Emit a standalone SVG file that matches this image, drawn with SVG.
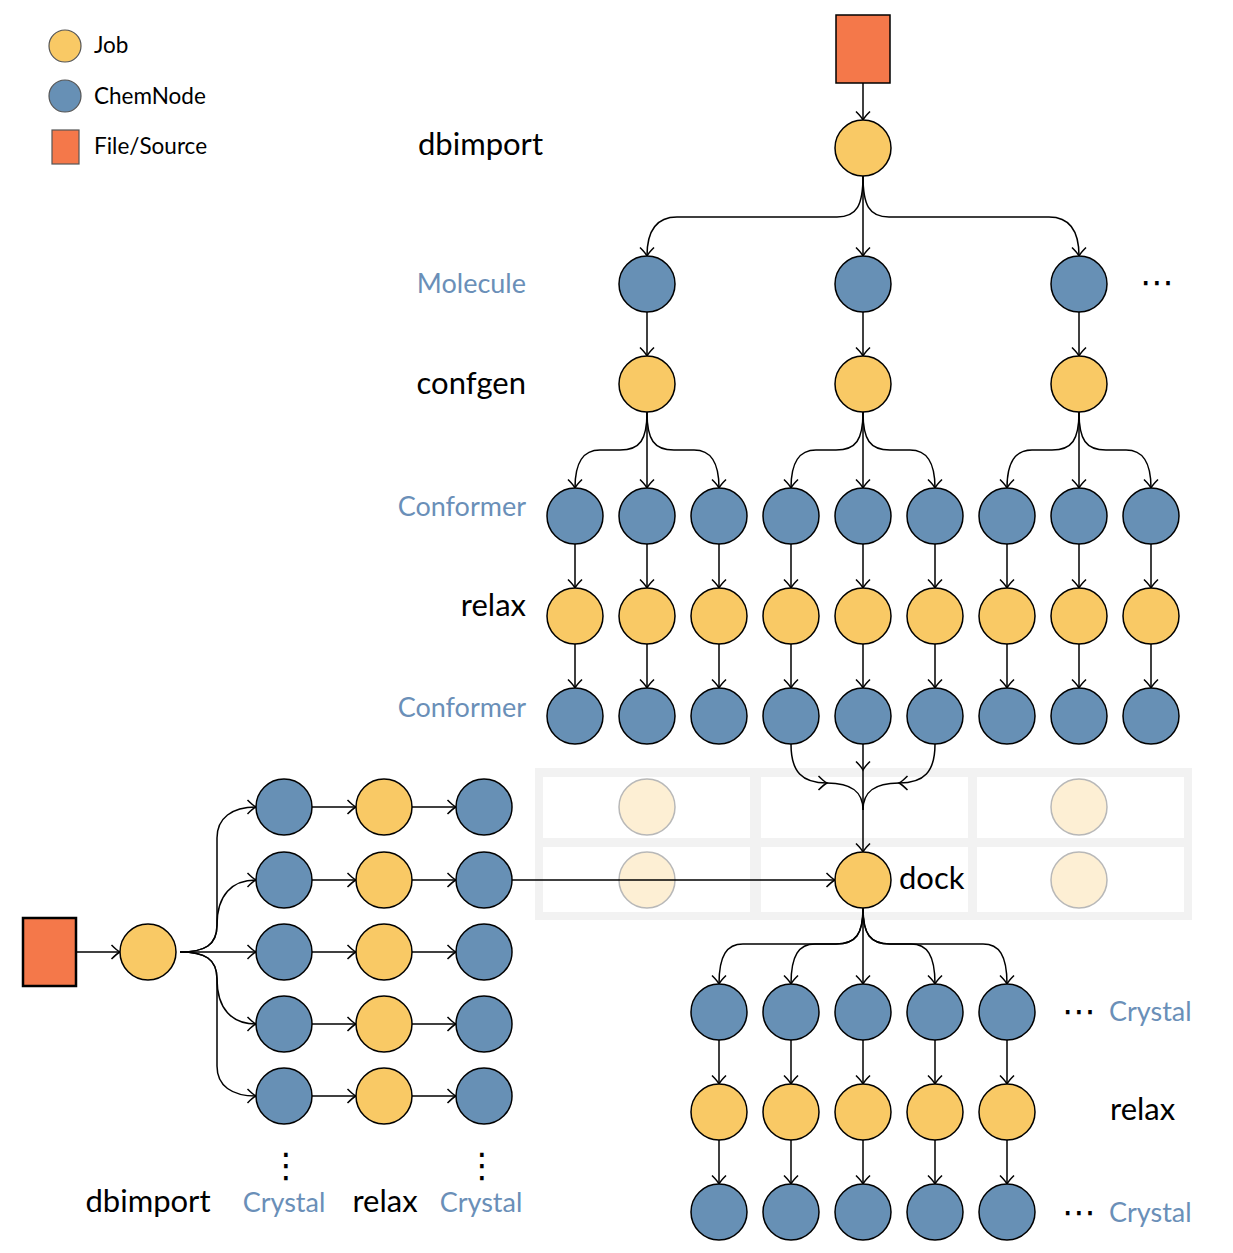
<svg xmlns="http://www.w3.org/2000/svg" width="1233" height="1253" viewBox="0 0 1233 1253">
<style>
.job{fill:#f9c965;stroke:#000;stroke-width:1.5}
.chem{fill:#6790b5;stroke:#000;stroke-width:1.5}
.src{fill:#f4784a;stroke:#000;stroke-width:1.5}
.ghost{fill:#fdefd4;stroke:#b8b8b8;stroke-width:1.5}
.lj{fill:#f9c965;stroke:#555;stroke-width:1.2}
.lc{fill:#6790b5;stroke:#555;stroke-width:1.2}
.ls{fill:#f4784a;stroke:#555;stroke-width:1.2}
.e{fill:none;stroke:#000;stroke-width:1.5}
.ea{fill:none;stroke:#000;stroke-width:1.5;marker-end:url(#arr)}
text{font-family:"Lato","DejaVu Sans",sans-serif}
.lg{font-size:22.5px;fill:#000}
.lb{font-size:31px;fill:#000}
.bl{font-size:27px;fill:#6a8fb8}
.dots{font-family:"DejaVu Sans",sans-serif;font-size:34px;fill:#000}
</style>
<defs>
<marker id="arr" viewBox="-10 -8 12 16" markerWidth="12" markerHeight="16" refX="0" refY="0" orient="auto" markerUnits="userSpaceOnUse">
<path d="M-8.5,-7 Q-3,-1.5 0,0 Q-3,1.5 -8.5,7" fill="none" stroke="#000" stroke-width="1.5"/>
</marker>
</defs>
<rect width="1233" height="1253" fill="#fff"/>

<g id="grid">
<rect x="535" y="768" width="657" height="152" fill="#f2f2f2"/>
<rect x="543" y="777" width="207" height="61" fill="#fff"/>
<rect x="761" y="777" width="207" height="61" fill="#fff"/>
<rect x="977" y="777" width="207" height="61" fill="#fff"/>
<rect x="543" y="847" width="207" height="65" fill="#fff"/>
<rect x="761" y="847" width="207" height="65" fill="#fff"/>
<rect x="977" y="847" width="207" height="65" fill="#fff"/>
<circle class="ghost" cx="647" cy="807" r="28"/>
<circle class="ghost" cx="1079" cy="807" r="28"/>
<circle class="ghost" cx="647" cy="880" r="28"/>
<circle class="ghost" cx="1079" cy="880" r="28"/>
</g>

<g id="legend">
<g id="legend-job"><circle class="lj" cx="65" cy="46" r="16"/><text class="lg" x="94" y="53">Job</text></g>
<g id="legend-chem"><circle class="lc" cx="65" cy="96" r="16"/><text class="lg" x="94" y="104">ChemNode</text></g>
<g id="legend-file"><rect class="ls" x="52" y="130" width="27" height="34"/><text class="lg" x="94" y="154">File/Source</text></g>
</g>

<g id="labels">
<text class="lb" x="418" y="155">dbimport</text>
<text class="bl" x="526" y="293" text-anchor="end">Molecule</text>
<text class="lb" x="526" y="394" text-anchor="end">confgen</text>
<text class="bl" x="526" y="516" text-anchor="end">Conformer</text>
<text class="lb" x="526" y="616" text-anchor="end">relax</text>
<text class="bl" x="526" y="717" text-anchor="end">Conformer</text>
<text class="lb" x="899" y="889">dock</text>
<text class="dots" x="1140" y="294">⋯</text>
<text class="dots" x="1062" y="1023">⋯</text>
<text class="bl" x="1109" y="1021">Crystal</text>
<text class="lb" x="1110" y="1120">relax</text>
<text class="dots" x="1062" y="1224">⋯</text>
<text class="bl" x="1109" y="1222">Crystal</text>
<text class="dots" x="286" y="1177" text-anchor="middle">⋮</text>
<text class="dots" x="482" y="1177" text-anchor="middle">⋮</text>
<text class="lb" x="148" y="1212" text-anchor="middle">dbimport</text>
<text class="bl" x="284" y="1212" text-anchor="middle">Crystal</text>
<text class="lb" x="385" y="1212" text-anchor="middle">relax</text>
<text class="bl" x="481" y="1212" text-anchor="middle">Crystal</text>
</g>

<g id="connectors">
<path class="ea" d="M863,83 V120"/>
<path class="ea" d="M863,176 V256"/>
<path class="ea" d="M863,176 C863,205 857,217 837,217 H677 C657,217 647,230 647,256"/>
<path class="ea" d="M863,176 C863,205 869,217 889,217 H1049 C1069,217 1079,230 1079,256"/>
<path class="ea" d="M647,312 V356"/>
<path class="ea" d="M863,312 V356"/>
<path class="ea" d="M1079,312 V356"/>
<path class="ea" d="M647,412 V488"/>
<path class="ea" d="M647,412 C647,440 640,450 620,450 H600 C583,450 575,462 575,488"/>
<path class="ea" d="M647,412 C647,440 654,450 674,450 H694 C711,450 719,462 719,488"/>
<path class="ea" d="M863,412 V488"/>
<path class="ea" d="M863,412 C863,440 856,450 836,450 H816 C799,450 791,462 791,488"/>
<path class="ea" d="M863,412 C863,440 870,450 890,450 H910 C927,450 935,462 935,488"/>
<path class="ea" d="M1079,412 V488"/>
<path class="ea" d="M1079,412 C1079,440 1072,450 1052,450 H1032 C1015,450 1007,462 1007,488"/>
<path class="ea" d="M1079,412 C1079,440 1086,450 1106,450 H1126 C1143,450 1151,462 1151,488"/>
<path class="ea" d="M575,544 V588"/><path class="ea" d="M575,644 V688"/>
<path class="ea" d="M647,544 V588"/><path class="ea" d="M647,644 V688"/>
<path class="ea" d="M719,544 V588"/><path class="ea" d="M719,644 V688"/>
<path class="ea" d="M791,544 V588"/><path class="ea" d="M791,644 V688"/>
<path class="ea" d="M863,544 V588"/><path class="ea" d="M863,644 V688"/>
<path class="ea" d="M935,544 V588"/><path class="ea" d="M935,644 V688"/>
<path class="ea" d="M1007,544 V588"/><path class="ea" d="M1007,644 V688"/>
<path class="ea" d="M1079,544 V588"/><path class="ea" d="M1079,644 V688"/>
<path class="ea" d="M1151,544 V588"/><path class="ea" d="M1151,644 V688"/>
<path class="ea" d="M791,744 C791,772 802,783 827,783"/>
<path class="e" d="M827,783 C852,783 863,792 863,810"/>
<path class="ea" d="M935,744 C935,772 924,783 899,783"/>
<path class="e" d="M899,783 C874,783 863,792 863,810"/>
<path class="ea" d="M863,744 V770"/>
<path class="ea" d="M863,770 V852"/>
<path class="ea" d="M76,952 H120"/>
<path class="ea" d="M180,952 C205,952 217,945 217,925 V838 C217,818 232,807 256,807"/>
<path class="ea" d="M180,952 C205,952 217,945 217,925 C217,895 232,880 256,880"/>
<path class="ea" d="M180,952 H256"/>
<path class="ea" d="M180,952 C205,952 217,959 217,979 C217,1009 232,1024 256,1024"/>
<path class="ea" d="M180,952 C205,952 217,959 217,979 V1066 C217,1086 232,1096 256,1096"/>
<path class="ea" d="M312,807 H356"/><path class="ea" d="M412,807 H456"/>
<path class="ea" d="M312,880 H356"/><path class="ea" d="M412,880 H456"/>
<path class="ea" d="M312,952 H356"/><path class="ea" d="M412,952 H456"/>
<path class="ea" d="M312,1024 H356"/><path class="ea" d="M412,1024 H456"/>
<path class="ea" d="M312,1096 H356"/><path class="ea" d="M412,1096 H456"/>
<path class="ea" d="M512,880 H835"/>
<path class="ea" d="M863,908 V984"/>
<path class="ea" d="M863,908 C863,934 856,944 836,944 H815 C799,944 791,955 791,984"/>
<path class="ea" d="M863,908 C863,934 856,944 836,944 H743 C727,944 719,955 719,984"/>
<path class="ea" d="M863,908 C863,934 870,944 890,944 H911 C927,944 935,955 935,984"/>
<path class="ea" d="M863,908 C863,934 870,944 890,944 H983 C999,944 1007,955 1007,984"/>
<path class="ea" d="M719,1040 V1084"/><path class="ea" d="M719,1140 V1184"/>
<path class="ea" d="M791,1040 V1084"/><path class="ea" d="M791,1140 V1184"/>
<path class="ea" d="M863,1040 V1084"/><path class="ea" d="M863,1140 V1184"/>
<path class="ea" d="M935,1040 V1084"/><path class="ea" d="M935,1140 V1184"/>
<path class="ea" d="M1007,1040 V1084"/><path class="ea" d="M1007,1140 V1184"/>
</g>

<g id="nodes">
<g id="src-top"><rect class="src" x="836" y="15" width="54" height="68"/></g>
<g id="dbimport-top"><circle class="job" cx="863" cy="148" r="28"/></g>
<g id="mol-1"><circle class="chem" cx="647" cy="284" r="28"/></g>
<g id="mol-2"><circle class="chem" cx="863" cy="284" r="28"/></g>
<g id="mol-3"><circle class="chem" cx="1079" cy="284" r="28"/></g>
<g id="confgen-1"><circle class="job" cx="647" cy="384" r="28"/></g>
<g id="confgen-2"><circle class="job" cx="863" cy="384" r="28"/></g>
<g id="confgen-3"><circle class="job" cx="1079" cy="384" r="28"/></g>
<g id="conf-a1"><circle class="chem" cx="575" cy="516" r="28"/></g>
<g id="conf-a2"><circle class="chem" cx="647" cy="516" r="28"/></g>
<g id="conf-a3"><circle class="chem" cx="719" cy="516" r="28"/></g>
<g id="conf-a4"><circle class="chem" cx="791" cy="516" r="28"/></g>
<g id="conf-a5"><circle class="chem" cx="863" cy="516" r="28"/></g>
<g id="conf-a6"><circle class="chem" cx="935" cy="516" r="28"/></g>
<g id="conf-a7"><circle class="chem" cx="1007" cy="516" r="28"/></g>
<g id="conf-a8"><circle class="chem" cx="1079" cy="516" r="28"/></g>
<g id="conf-a9"><circle class="chem" cx="1151" cy="516" r="28"/></g>
<g id="relax-1"><circle class="job" cx="575" cy="616" r="28"/></g>
<g id="relax-2"><circle class="job" cx="647" cy="616" r="28"/></g>
<g id="relax-3"><circle class="job" cx="719" cy="616" r="28"/></g>
<g id="relax-4"><circle class="job" cx="791" cy="616" r="28"/></g>
<g id="relax-5"><circle class="job" cx="863" cy="616" r="28"/></g>
<g id="relax-6"><circle class="job" cx="935" cy="616" r="28"/></g>
<g id="relax-7"><circle class="job" cx="1007" cy="616" r="28"/></g>
<g id="relax-8"><circle class="job" cx="1079" cy="616" r="28"/></g>
<g id="relax-9"><circle class="job" cx="1151" cy="616" r="28"/></g>
<g id="conf-b1"><circle class="chem" cx="575" cy="716" r="28"/></g>
<g id="conf-b2"><circle class="chem" cx="647" cy="716" r="28"/></g>
<g id="conf-b3"><circle class="chem" cx="719" cy="716" r="28"/></g>
<g id="conf-b4"><circle class="chem" cx="791" cy="716" r="28"/></g>
<g id="conf-b5"><circle class="chem" cx="863" cy="716" r="28"/></g>
<g id="conf-b6"><circle class="chem" cx="935" cy="716" r="28"/></g>
<g id="conf-b7"><circle class="chem" cx="1007" cy="716" r="28"/></g>
<g id="conf-b8"><circle class="chem" cx="1079" cy="716" r="28"/></g>
<g id="conf-b9"><circle class="chem" cx="1151" cy="716" r="28"/></g>
<g id="dock"><circle class="job" cx="863" cy="880" r="28"/></g>
<g id="cry-a1"><circle class="chem" cx="719" cy="1012" r="28"/></g>
<g id="cry-a2"><circle class="chem" cx="791" cy="1012" r="28"/></g>
<g id="cry-a3"><circle class="chem" cx="863" cy="1012" r="28"/></g>
<g id="cry-a4"><circle class="chem" cx="935" cy="1012" r="28"/></g>
<g id="cry-a5"><circle class="chem" cx="1007" cy="1012" r="28"/></g>
<g id="crelax-1"><circle class="job" cx="719" cy="1112" r="28"/></g>
<g id="crelax-2"><circle class="job" cx="791" cy="1112" r="28"/></g>
<g id="crelax-3"><circle class="job" cx="863" cy="1112" r="28"/></g>
<g id="crelax-4"><circle class="job" cx="935" cy="1112" r="28"/></g>
<g id="crelax-5"><circle class="job" cx="1007" cy="1112" r="28"/></g>
<g id="cry-b1"><circle class="chem" cx="719" cy="1212" r="28"/></g>
<g id="cry-b2"><circle class="chem" cx="791" cy="1212" r="28"/></g>
<g id="cry-b3"><circle class="chem" cx="863" cy="1212" r="28"/></g>
<g id="cry-b4"><circle class="chem" cx="935" cy="1212" r="28"/></g>
<g id="cry-b5"><circle class="chem" cx="1007" cy="1212" r="28"/></g>
<g id="src-left"><rect class="src" x="23" y="918" width="53" height="68" style="stroke-width:2.5"/></g>
<g id="dbimport-left"><circle class="job" cx="148" cy="952" r="28"/></g>
<g id="lcry-1"><circle class="chem" cx="284" cy="807" r="28"/></g>
<g id="lcry-2"><circle class="chem" cx="284" cy="880" r="28"/></g>
<g id="lcry-3"><circle class="chem" cx="284" cy="952" r="28"/></g>
<g id="lcry-4"><circle class="chem" cx="284" cy="1024" r="28"/></g>
<g id="lcry-5"><circle class="chem" cx="284" cy="1096" r="28"/></g>
<g id="lrelax-1"><circle class="job" cx="384" cy="807" r="28"/></g>
<g id="lrelax-2"><circle class="job" cx="384" cy="880" r="28"/></g>
<g id="lrelax-3"><circle class="job" cx="384" cy="952" r="28"/></g>
<g id="lrelax-4"><circle class="job" cx="384" cy="1024" r="28"/></g>
<g id="lrelax-5"><circle class="job" cx="384" cy="1096" r="28"/></g>
<g id="lcryr-1"><circle class="chem" cx="484" cy="807" r="28"/></g>
<g id="lcryr-2"><circle class="chem" cx="484" cy="880" r="28"/></g>
<g id="lcryr-3"><circle class="chem" cx="484" cy="952" r="28"/></g>
<g id="lcryr-4"><circle class="chem" cx="484" cy="1024" r="28"/></g>
<g id="lcryr-5"><circle class="chem" cx="484" cy="1096" r="28"/></g>
</g>
</svg>
